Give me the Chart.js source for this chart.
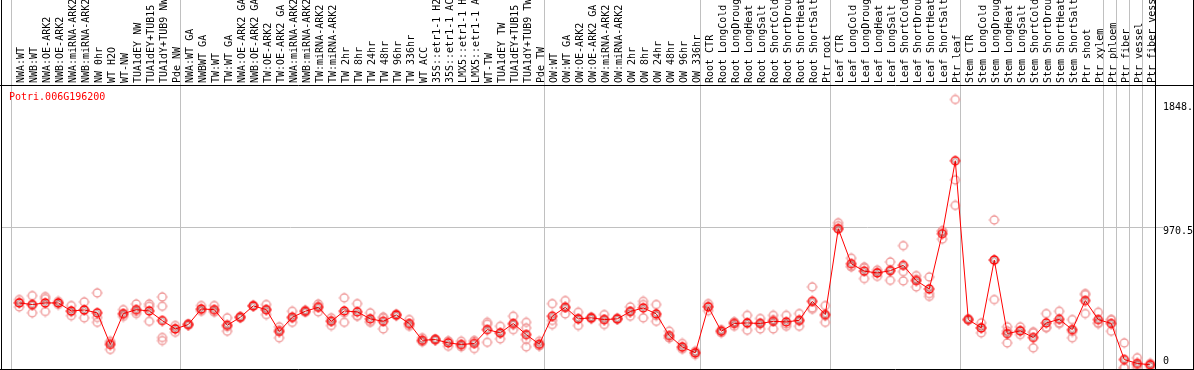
<html><head><meta charset="UTF-8">
<title>Potri.006G196200</title>
<script src="https://cdn.jsdelivr.net/npm/chart.js"></script>
<style>
body { margin: 0; background: #fff; }
#chart { display: block; }
</style>
</head>
<body>
<canvas id="chart" width="1194" height="370"></canvas>
<script>
// sample names, as printed on the top axis
const categories = [
  'NWA:WT', 'NWB:WT', 'NWA:OE-ARK2', 'NWB:OE-ARK2', 'NWA:miRNA-ARK2', 'NWB:miRNA-ARK2',
  'NW 0hr', 'WT H2O', 'WT-NW', 'TUA1dEY NW', 'TUA1dEY+TUB15', 'TUA1dY+TUB9 NW', 'Pde NW',
  'NWA:WT GA', 'NWBWT GA', 'TW:WT', 'TW:WT GA', 'NWA:OE-ARK2 GA', 'NWB:OE-ARK2 GA',
  'TW:OE-ARK2', 'TW:OE-ARK2 GA', 'NWA:miRNA-ARK2', 'NWB:miRNA-ARK2', 'TW:miRNA-ARK2',
  'TW:miRNA-ARK2', 'TW 2hr', 'TW 8hr', 'TW 24hr', 'TW 48hr', 'TW 96hr', 'TW 336hr',
  'WT ACC', '35S::etr1-1 H2O', '35S::etr1-1 ACC', 'LMX5::etr1-1 H2O', 'LMX5::etr1-1 ACC',
  'WT-TW', 'TUA1dEY TW', 'TUA1dEY+TUB15', 'TUA1dY+TUB9 TW', 'Pde TW',
  'OW:WT', 'OW:WT GA', 'OW:OE-ARK2', 'OW:OE-ARK2 GA', 'OW:miRNA-ARK2', 'OW:miRNA-ARK2',
  'OW 2hr', 'OW 8hr', 'OW 24hr', 'OW 48hr', 'OW 96hr', 'OW 336hr',
  'Root CTR', 'Root LongCold', 'Root LongDrought', 'Root LongHeat', 'Root LongSalt',
  'Root ShortCold', 'Root ShortDrought', 'Root ShortHeat', 'Root ShortSalt', 'Ptr root',
  'Leaf CTR', 'Leaf LongCold', 'Leaf LongDrought', 'Leaf LongHeat', 'Leaf LongSalt',
  'Leaf ShortCold', 'Leaf ShortDrought', 'Leaf ShortHeat', 'Leaf ShortSalt', 'Ptr leaf',
  'Stem CTR', 'Stem LongCold', 'Stem LongDrought', 'Stem LongHeat', 'Stem LongSalt',
  'Stem ShortCold', 'Stem ShortDrought', 'Stem ShortHeat', 'Stem ShortSalt', 'Ptr shoot',
  'Ptr xylem', 'Ptr phloem', 'Ptr fiber', 'Ptr vessel', 'Ptr fiber vessel'
];

// first sample of each experiment block (a grey separator is drawn before it)
const groupStarts = [0, 13, 41, 53, 63, 73, 84, 85, 86, 87];

const geneName = 'Potri.006G196200';
const yTicks = [0, 970.5, 1848.6];
const yMax = 1941;

const meanValues = [
  453, 442, 453, 453, 398, 405, 385, 168, 380, 407, 398, 332, 275,
  305, 412, 407, 300, 355, 433, 407, 257, 355, 396, 423, 327, 398, 392, 344, 327, 371, 312,
  197, 202, 179, 168, 175, 270, 248, 312, 236, 170,
  362, 423, 344, 351, 339, 344, 394, 419, 378, 229, 152, 111,
  426, 259, 312, 316, 312, 327, 323, 334, 464, 373,
  962, 722, 671, 659, 674, 711, 606, 549, 928, 1428,
  339, 282, 748, 243, 262, 216, 316, 341, 270, 469, 339,
  312, 65, 38, 29
];

const rep1 = [
  476, 503, 496, 453, 435, 460, 522, 190, 407, 446, 446, 494, 298,
  305, 435, 435, 351, 355, 433, 442, 289, 396, 403, 446, 351, 488, 448, 385, 357, 371, 339,
  214, 202, 190, 190, 190, 320, 293, 362, 320, 190,
  448, 469, 389, 351, 373, 344, 426, 464, 442, 259, 175, 122,
  448, 270, 323, 368, 346, 368, 368, 380, 563, 435,
  1003, 760, 700, 663, 734, 846, 640, 631, 948, 1848.6,
  344, 316, 1022, 289, 289, 248, 380, 396, 339, 510, 389,
  339, 179, 77, 38
];

const rep2 = [
  426, 385, 483, 442, 366, 351, 353, 134, 373, 380, 430, 430, 252,
  300, 396, 396, 259, 350, 430, 373, 214, 320, 389, 392, 298, 320, 366, 320, 275, 365, 293,
  190, 198, 156, 152, 140, 183, 207, 270, 282, 161,
  305, 378, 298, 345, 305, 340, 362, 351, 327, 214, 145, 99,
  430, 248, 293, 266, 275, 275, 293, 293, 419, 320,
  983, 700, 620, 635, 608, 604, 563, 517, 891, 1297,
  339, 248, 476, 179, 236, 145, 282, 316, 214, 380, 316,
  259, 8, 10, 17
];

const rep3 = [
  457, 438, 394, 464, 393, 404, 320, 180, 360, 395, 327, 216, 276,
  310, 405, 390, 290, 360, 436, 406, 268, 349, 396, 431, 332, 386, 362, 327, 349, 377, 304,
  187, 206, 191, 162, 195, 307, 244, 304, 202, 159,
  333, 422, 345, 357, 339, 348, 394, 442, 365, 214, 136, 112,
  400, 259, 320, 314, 315, 338, 308, 329, 410, 364,
  960, 706, 693, 679, 680, 668, 615, 498, 945, 1122,
  335, 282, 746, 261, 261, 255, 286, 311, 257, 517, 312,
  338, 8, 27, 32
];

// fourth replicate exists only for a couple of samples
const rep4 = [
  null, null, null, null, null, null, null, null, null, null, null, 195, null,
  null, null, null, null, null, null, null, null, null, null, null, null, null, null, null, null, null, null,
  null, null, null, null, null, null, null, null, 152, null,
  null, null, null, null, null, null, null, null, null, null, null, null,
  null, null, null, null, null, null, null, null, null, null,
  null, null, null, null, null, null, null, null, null, null,
  null, null, null, null, null, null, null, null, null, null, null,
  null, null, null, null
];

const FONT = 'DejaVu Sans Mono';
const RED = '#ff0000';
const PINK = '#f09a9a';
const GRID = '#c0c0c0';
const NONE = 'rgba(0,0,0,0)';

// small ring marker with tiny nubs, like the original plotter
function marker(color, inner) {
  const c = document.createElement('canvas');
  c.width = 12;
  c.height = 12;
  const g = c.getContext('2d');
  g.strokeStyle = color;
  g.lineWidth = 1.4;
  g.beginPath();
  g.arc(6, 6, 4, 0, Math.PI * 2);
  g.stroke();
  g.fillStyle = color;
  g.fillRect(5.5, 0.5, 1, 1);
  g.fillRect(5.5, 10.5, 1, 1);
  g.fillRect(0.5, 5.5, 1, 1);
  g.fillRect(10.5, 5.5, 1, 1);
  if (inner) {
    g.strokeStyle = inner;
    g.lineWidth = 0.8;
    g.beginPath();
    g.arc(6, 6, 2.4, 0, Math.PI * 2);
    g.stroke();
  }
  return c;
}

const meanMarker = marker(RED, 'rgba(90,0,0,0.6)');
const repMarker = marker(PINK);

const toPoints = arr => arr.map((v, i) => ({ x: i, y: v })).filter(p => p.y != null);
const sepOffset = 8 / 13;
const tickVal = ctx => (ctx.tick ? ctx.tick.value : null);
const isSep = ctx => { const v = tickVal(ctx); return v != null && !Number.isInteger(v); };
const isMid = ctx => tickVal(ctx) === 970.5;

const repDataset = arr => ({
  data: toPoints(arr),
  showLine: false,
  pointStyle: repMarker,
  pointRadius: 5,
  order: 1
});

const framePlugin = {
  id: 'frame',
  afterDraw(chart) {
    const { ctx, chartArea: a, width, height } = chart;
    ctx.save();
    ctx.strokeStyle = '#000';
    ctx.lineWidth = 1;
    ctx.beginPath();
    ctx.moveTo(0, a.top - 0.5); ctx.lineTo(width, a.top - 0.5);
    ctx.moveTo(0, a.bottom + 0.5); ctx.lineTo(width, a.bottom + 0.5);
    ctx.moveTo(a.left - 0.5, 0); ctx.lineTo(a.left - 0.5, height);
    ctx.moveTo(a.right - 0.5, 0); ctx.lineTo(a.right - 0.5, height);
    ctx.moveTo(width - 0.5, 0); ctx.lineTo(width - 0.5, height);
    ctx.stroke();
    ctx.fillStyle = RED;
    ctx.font = '10px "' + FONT + '"';
    ctx.textBaseline = 'middle';
    ctx.fillText(geneName, a.left + 7, a.top + 11);
    ctx.restore();
  }
};

new Chart(document.getElementById('chart'), {
  type: 'line',
  data: {
    datasets: [
      {
        data: toPoints(meanValues),
        borderColor: RED,
        borderWidth: 1,
        tension: 0,
        pointStyle: meanMarker,
        pointRadius: 5,
        order: 0
      },
      repDataset(rep1),
      repDataset(rep2),
      repDataset(rep3),
      repDataset(rep4)
    ]
  },
  options: {
    responsive: false,
    animation: false,
    devicePixelRatio: 1,
    layout: { autoPadding: false, padding: { left: 2, right: 0, top: 0, bottom: 1 } },
    plugins: { legend: { display: false }, tooltip: { enabled: false } },
    scales: {
      x: {
        type: 'linear',
        position: 'top',
        bounds: 'data',
        min: -1.331,
        max: 87.44,
        border: { display: false },
        afterBuildTicks(scale) {
          const vals = categories.map((_, i) => i)
            .concat(groupStarts.map(g => g - sepOffset))
            .sort((a, b) => a - b);
          scale.ticks = vals.map(v => ({ value: v }));
        },
        afterFit(scale) {
          scale.height = 86;
          scale.paddingLeft = 0;
          scale.paddingRight = 0;
        },
        grid: {
          color: ctx => isSep(ctx) ? GRID : NONE,
          tickColor: ctx => isSep(ctx) ? GRID : NONE,
          tickLength: 86,
          lineWidth: 1
        },
        ticks: {
          autoSkip: false,
          minRotation: 90,
          maxRotation: 90,
          padding: -83,
          labelOffset: 14,
          color: '#000',
          font: { family: FONT, size: 10, lineHeight: 1.2 },
          callback: v => Number.isInteger(v) ? categories[v] : ''
        }
      },
      y: {
        position: 'right',
        bounds: 'data',
        min: 0,
        max: yMax,
        border: { display: false },
        afterBuildTicks(scale) {
          scale.ticks = yTicks.map(v => ({ value: v }));
        },
        afterFit(scale) {
          scale.width = 38;
          scale.paddingTop = 0;
          scale.paddingBottom = 0;
        },
        grid: {
          color: ctx => isMid(ctx) ? GRID : NONE,
          tickColor: ctx => isMid(ctx) ? GRID : NONE,
          tickLength: 7
        },
        ticks: {
          padding: 0,
          color: '#000',
          // labels sit under their value line, except 0 which sits above the baseline
          font: ctx => {
            const v = tickVal(ctx);
            return {
              family: FONT,
              size: 10,
              lineHeight: v === 0 ? '14.6px' : (v === 970.5 ? '7px' : '15.6px')
            };
          },
          callback: v => v === 0 ? ['0', ''] : ['', String(v)]
        }
      }
    }
  },
  plugins: [framePlugin]
});
</script>
</body></html>
